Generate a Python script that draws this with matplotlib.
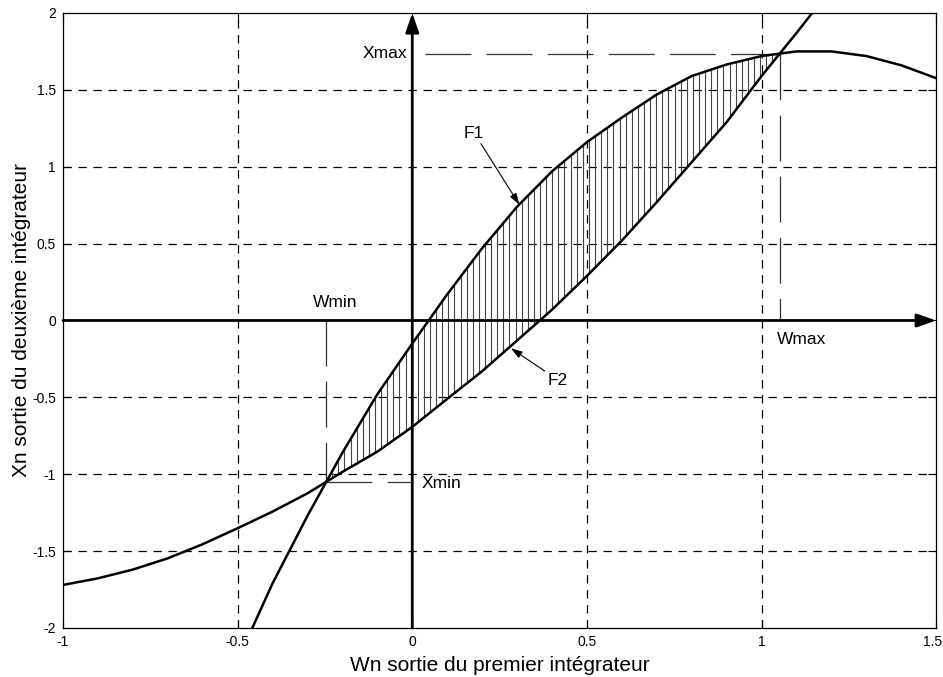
import numpy as np
import matplotlib
matplotlib.use("Agg")
import matplotlib.pyplot as plt
import matplotlib.transforms as mtransforms

plt.rcParams['font.family'] = ['Liberation Sans', 'DejaVu Sans']
plt.rcParams['lines.scale_dashes'] = False

# Sampled curves (abscissa Wn, ordinate Xn)
w_f1 = [-0.5, -0.4, -0.3, -0.2, -0.1, 0.0, 0.1, 0.2, 0.3, 0.4, 0.5,
        0.6, 0.7, 0.8, 0.9, 1.0, 1.1, 1.2, 1.3, 1.4, 1.5]
x_f1 = [-2.21, -1.71, -1.27, -0.86, -0.48, -0.15, 0.17, 0.47, 0.74, 0.97, 1.16,
        1.32, 1.47, 1.59, 1.665, 1.72, 1.75, 1.75, 1.72, 1.66, 1.576]

w_f2 = [-1.0, -0.9, -0.8, -0.7, -0.6, -0.5, -0.4, -0.3, -0.2, -0.1, 0.0,
        0.1, 0.2, 0.3, 0.4, 0.5, 0.6, 0.7, 0.8, 0.9, 1.0, 1.1, 1.2]
x_f2 = [-1.72, -1.677, -1.62, -1.547, -1.455, -1.351, -1.243, -1.124, -0.985, -0.853, -0.692,
        -0.51, -0.33, -0.13, 0.07, 0.29, 0.52, 0.77, 1.03, 1.29, 1.59, 1.87, 2.16]

x_ticks = [-1, -0.5, 0, 0.5, 1, 1.5]
x_ticklabels = ['-1', '-0.5', '0', '0.5', '1', '1.5']
y_ticks = [-2, -1.5, -1, -0.5, 0, 0.5, 1, 1.5, 2]
y_ticklabels = ['-2', '-1.5', '-1', '-0.5', '0', '0.5', '1', '1.5', '2']

# Crossing points of the two curves -> Wmin/Xmin and Wmax/Xmax
wf = np.linspace(-0.45, 1.15, 16001)
d = np.interp(wf, w_f1, x_f1) - np.interp(wf, w_f2, x_f2)
idx = np.where(np.diff(np.sign(d)) != 0)[0]
w_min, w_max = wf[idx[0]], wf[idx[-1]]
x_min = np.interp(w_min, w_f2, x_f2)
x_max = np.interp(w_max, w_f2, x_f2)

fig = plt.figure(figsize=(9.43, 6.77), dpi=100)
ax = fig.add_axes([0.0668, 0.0724, 0.926, 0.9084])
ax.set_xlim(-1, 1.5)
ax.set_ylim(-2, 2)

ax.set_xticks(x_ticks)
ax.set_xticklabels(x_ticklabels)
ax.set_yticks(y_ticks)
ax.set_yticklabels(y_ticklabels)
ax.tick_params(direction='in', length=6, width=0.8, labelsize=10,
               top=True, right=True, pad=5)
for s in ax.spines.values():
    s.set_linewidth(0.9)

# keep the last x tick label inside the figure
last = ax.get_xticklabels()[-1]
last.set_transform(last.get_transform() +
                   mtransforms.ScaledTranslation(-4 / 100, 0, fig.dpi_scale_trans))

# Dashed grid (the zero lines are covered by the arrowed axes)
for gx in [-0.5, 0.5, 1.0]:
    ax.axvline(gx, color='black', lw=0.9, ls=(0, (6, 4.8)), zorder=1)
for gy in [-1.5, -1.0, -0.5, 0.5, 1.0, 1.5]:
    ax.axhline(gy, color='black', lw=0.9, ls=(0, (6, 4.8)), zorder=1)

# Vertical hatching between the two curves
hw = np.arange(w_min + 0.017, w_max, 0.0175)
ax.vlines(hw, np.interp(hw, w_f2, x_f2), np.interp(hw, w_f1, x_f1),
          colors='#444444', lw=0.8, zorder=2)

# Curves
ax.plot(w_f1, x_f1, color='black', lw=1.8, zorder=4)
ax.plot(w_f2, x_f2, color='black', lw=1.8, zorder=4)

# Construction lines for the extrema
long_dash = (0, (33, 11))
ax.plot([0.037, w_max], [x_max, x_max], color='#333333', lw=0.9, ls=long_dash, zorder=3)
ax.plot([w_max, w_max], [x_max, 0], color='#333333', lw=0.9, ls=long_dash, zorder=3)
ax.plot([w_min, w_min], [0, x_min], color='#333333', lw=0.9, ls=long_dash, zorder=3)
ax.plot([w_min, 0], [x_min, x_min], color='#333333', lw=0.9, ls=long_dash, zorder=3)

# Arrowed axes through the origin
axis_arrow = dict(arrowstyle='-|>,head_length=1.15,head_width=0.4', lw=2.0,
                  color='black', shrinkA=0, shrinkB=0, mutation_scale=10)
ax.annotate('', xy=(0, 2), xytext=(0, -2), arrowprops=axis_arrow, zorder=5,
            annotation_clip=False)
ax.annotate('', xy=(1.5, 0), xytext=(-1, 0), arrowprops=axis_arrow, zorder=5,
            annotation_clip=False)

# Labels
lbl = dict(fontsize=12.5, color='black')
ax.text(-0.015, x_max, 'Xmax', ha='right', va='center', **lbl)
ax.text(-0.221, 0.07, 'Wmin', ha='center', va='bottom', **lbl)
ax.text(1.044, -0.126, 'Wmax', ha='left', va='center', **lbl)
ax.text(0.028, -1.063, 'Xmin', ha='left', va='center', **lbl)

small_arrow = dict(arrowstyle='-|>,head_length=0.7,head_width=0.22', lw=0.8,
                   color='black', shrinkA=0, shrinkB=0, mutation_scale=10)
ax.annotate('F1', xy=(0.307, 0.752), xytext=(0.177, 1.217), ha='center', va='center',
            arrowprops=dict(small_arrow, relpos=(0.75, 0.0)), **lbl)
ax.annotate('F2', xy=(0.282, -0.18), xytext=(0.416, -0.39), ha='center', va='center',
            arrowprops=dict(small_arrow, relpos=(0.0, 1.0)), **lbl)

ax.set_xlabel('Wn sortie du premier intégrateur', fontsize=15, labelpad=5)
ax.set_ylabel('Xn sortie du deuxième intégrateur', fontsize=15, labelpad=1)

fig.savefig('out.png', dpi=100)
